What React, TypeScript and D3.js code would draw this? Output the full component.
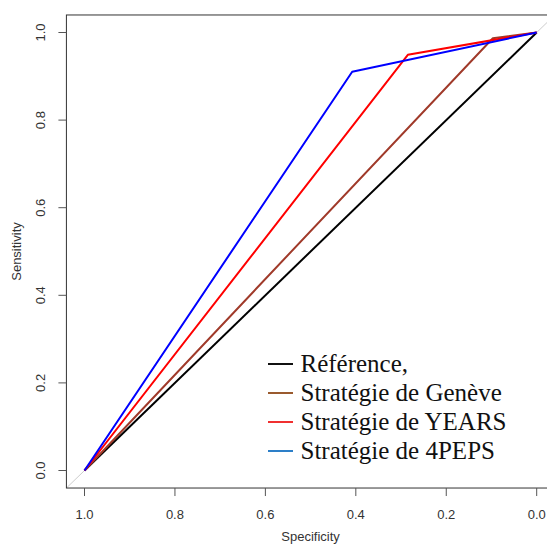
import React from "react";
import * as d3 from "d3";

const ticks = [0, 0.2, 0.4, 0.6, 0.8, 1.0];
const tickLabels = ["0.0", "0.2", "0.4", "0.6", "0.8", "1.0"];

const refSpec = [1, 0];
const refSens = [0, 1];
const genSpec = [1, 0.097, 0];
const genSens = [0, 0.987, 1];
const yearsSpec = [1, 0.285, 0];
const yearsSens = [0, 0.949, 1];
const pepsSpec = [1, 0.408, 0];
const pepsSens = [0, 0.9105, 1];

const legendLabels = ["Référence,", "Stratégie de Genève", "Stratégie de YEARS", "Stratégie de 4PEPS"];
const legendColors = ["#111111", "#9a5a2e", "#f03030", "#2d7fc8"];

export default function App() {
  const W = 547, H = 545;
  const x = d3.scaleLinear().domain([1, 0]).range([84.5, 536.7]);
  const y = d3.scaleLinear().domain([0, 1]).range([470.5, 32.5]);
  const boxL = x(1.04), boxR = x(-0.04), boxT = y(1.04), boxB = y(-0.04);
  const line = d3.line<[number, number]>().x(d => x(d[0])).y(d => y(d[1]));
  const mk = (s: number[], t: number[]) => line(s.map((v, i) => [v, t[i]] as [number, number])) || "";
  const series = [
    { s: refSpec, t: refSens, c: "#000000" },
    { s: genSpec, t: genSens, c: "#a03a2a" },
    { s: yearsSpec, t: yearsSens, c: "#ff0000" },
    { s: pepsSpec, t: pepsSens, c: "#0000ff" },
  ];
  const sans = "Liberation Sans, Arial, sans-serif";
  const serif = "Liberation Serif, Times New Roman, serif";
  return (
    <svg width={W} height={H} style={{ position: "absolute", left: 0, top: 0, background: "#fff" }}>
      <defs>
        <clipPath id="clip">
          <rect x={boxL} y={boxT} width={boxR - boxL} height={boxB - boxT} />
        </clipPath>
      </defs>
      <rect width={W} height={H} fill="#fff" />
      <g clipPath="url(#clip)">
        <path d={mk([1.2, -0.2], [-0.2, 1.2])} stroke="#cccccc" strokeWidth={1} fill="none" />
        {series.map((d, i) => (
          <path key={i} d={mk(d.s, d.t)} stroke={d.c} strokeWidth={2} fill="none" strokeLinejoin="round" />
        ))}
      </g>
      <rect x={boxL} y={boxT} width={boxR - boxL} height={boxB - boxT} fill="none" stroke="#333" strokeWidth={1} />
      {ticks.map((t, i) => (
        <g key={"x" + i}>
          <line x1={x(t)} x2={x(t)} y1={boxB} y2={boxB + 8} stroke="#555" />
          <text x={x(t)} y={519} textAnchor="middle" fontFamily={sans} fontSize={13} fill="#333">{tickLabels[i]}</text>
        </g>
      ))}
      {ticks.map((t, i) => (
        <g key={"y" + i}>
          <line x1={boxL - 8} x2={boxL} y1={y(t)} y2={y(t)} stroke="#555" />
          <text transform={`translate(45,${y(t)}) rotate(-90)`} textAnchor="middle" fontFamily={sans} fontSize={13} fill="#333">{tickLabels[i]}</text>
        </g>
      ))}
      <text x={(x(1) + x(0)) / 2} y={541} textAnchor="middle" fontFamily={sans} fontSize={13} fill="#333">Specificity</text>
      <text transform={`translate(21,${(y(0) + y(1)) / 2}) rotate(-90)`} textAnchor="middle" fontFamily={sans} fontSize={13} fill="#333">Sensitivity</text>
      {legendLabels.map((l, i) => {
        const yy = 364 + i * 29;
        return (
          <g key={"l" + i}>
            <line x1={268} x2={293} y1={yy} y2={yy} stroke={legendColors[i]} strokeWidth={2} />
            <text x={300.5} y={yy + 8} fontFamily={serif} fontSize={25} fill="#111">{l}</text>
          </g>
        );
      })}
    </svg>
  );
}
